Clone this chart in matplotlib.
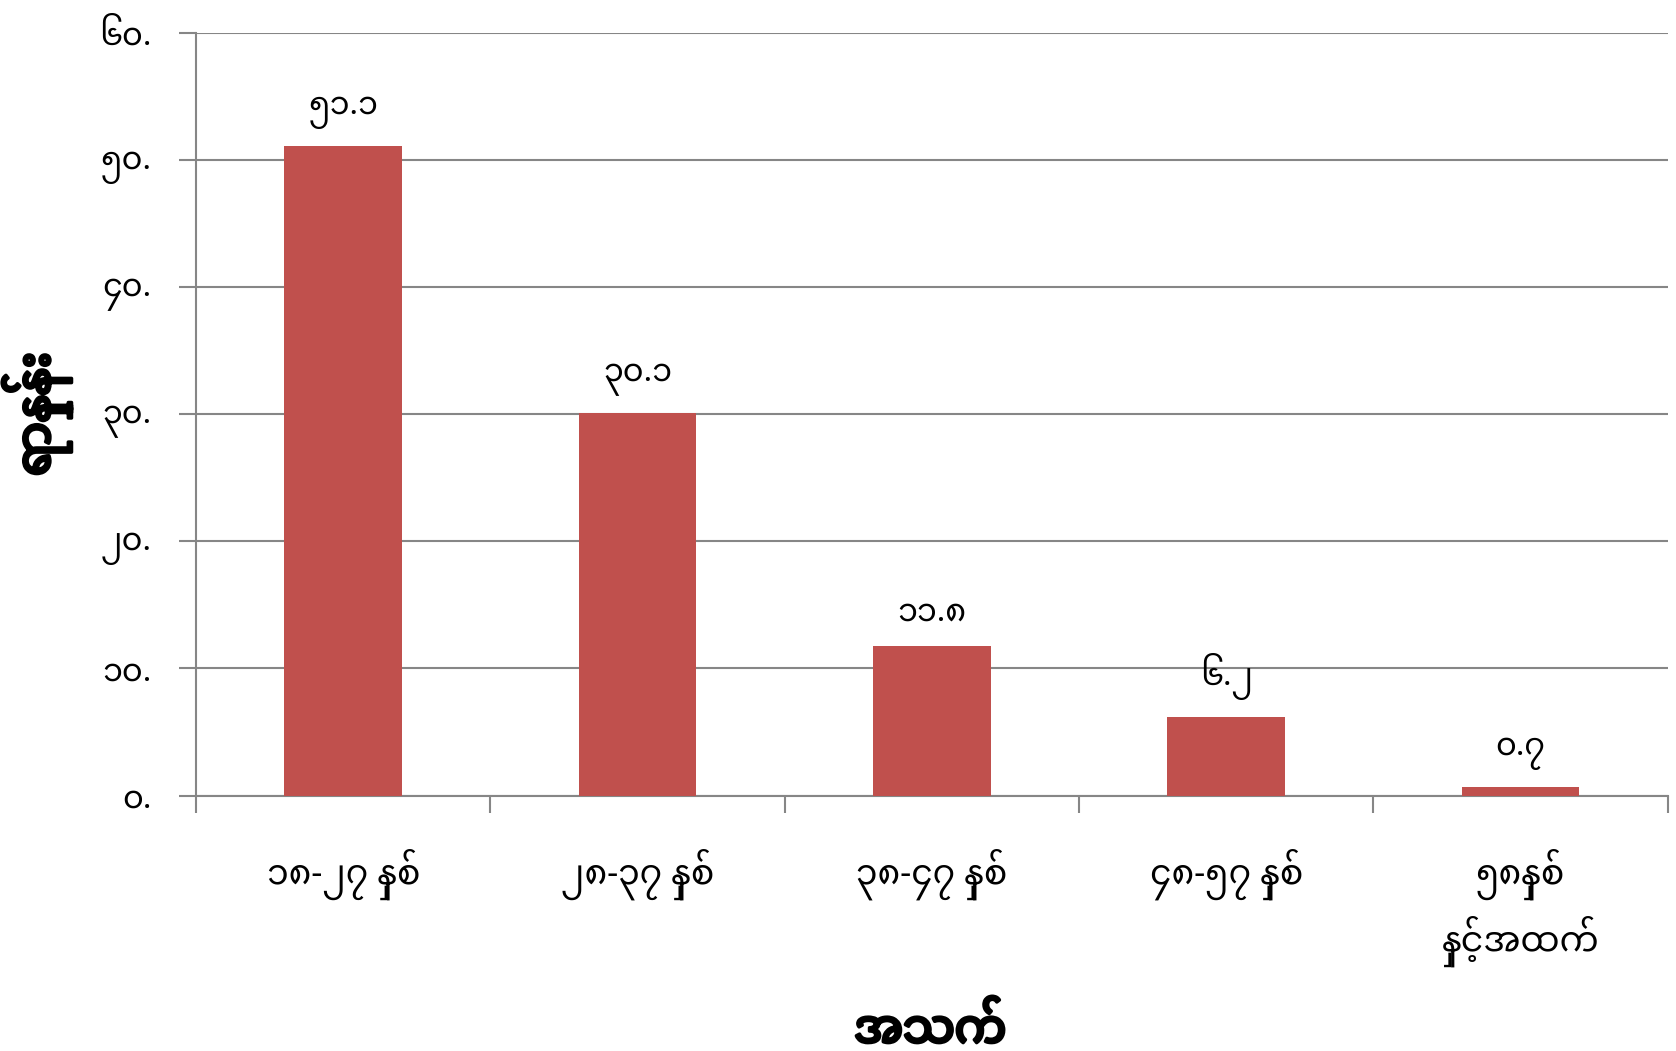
import matplotlib.pyplot as plt
import matplotlib.patheffects as pe
import numpy as np

categories = ['၁၈-၂၇ နှစ်', '၂၈-၃၇ နှစ်', '၃၈-၄၇ နှစ်', '၄၈-၅၇ နှစ်', '၅၈နှစ်\nနှင့်အထက်']
values = [51.1, 30.1, 11.8, 6.2, 0.7]
value_labels = ['၅၁.၁', '၃၀.၁', '၁၁.၈', '၆.၂', '၀.၇']
yticks = [0, 10, 20, 30, 40, 50, 60]
ytick_labels = ['၀.', '၁၀.', '၂၀.', '၃၀.', '၄၀.', '၅၀.', '၆၀.']

plt.rcParams['font.family'] = ['Noto Sans Myanmar', 'Padauk', 'Myanmar Text', 'DejaVu Sans']

fig = plt.figure(figsize=(16.76, 10.51), dpi=100)
ax = fig.add_axes([0.117, 0.243, 0.878, 0.726])

x = np.arange(len(categories))
ax.bar(x, values, width=0.4, color='#c0504d', zorder=3)
for xi, v, lab in zip(x, values, value_labels):
    ax.text(xi, v + 1.3, lab, ha='center', va='bottom', fontsize=23)

ax.set_xlim(-0.5, len(categories) - 0.5)
ax.set_ylim(0, 60)
ax.set_yticks(yticks)
ax.set_yticklabels(ytick_labels, fontsize=23)
ax.set_xticks(x)
ax.set_xticklabels(categories, fontsize=25, linespacing=1.45)
ax.set_xticks(np.arange(len(categories) + 1) - 0.5, minor=True)
ax.tick_params(axis='x', which='major', length=0, pad=38)
ax.tick_params(axis='x', which='minor', length=12, color='#868686', width=1.5)
ax.tick_params(axis='y', length=12, color='#868686', width=1.5, pad=20)

ax.grid(axis='y', color='#868686', linewidth=1.5, zorder=0)
for side in ['top', 'right']:
    ax.spines[side].set_visible(False)
ax.spines['left'].set_color('#868686')
ax.spines['bottom'].set_color('#868686')
ax.spines['left'].set_linewidth(1.5)
ax.spines['bottom'].set_linewidth(1.5)

bold = [pe.withStroke(linewidth=2.5, foreground='black')]
fig.text(0.555, 0.02, 'အသက်', fontsize=33, ha='center', va='center', path_effects=bold)
ax.set_ylabel('ရာနှုန်း', fontsize=34, labelpad=20, path_effects=bold)

fig.savefig('out.png', dpi=100)
